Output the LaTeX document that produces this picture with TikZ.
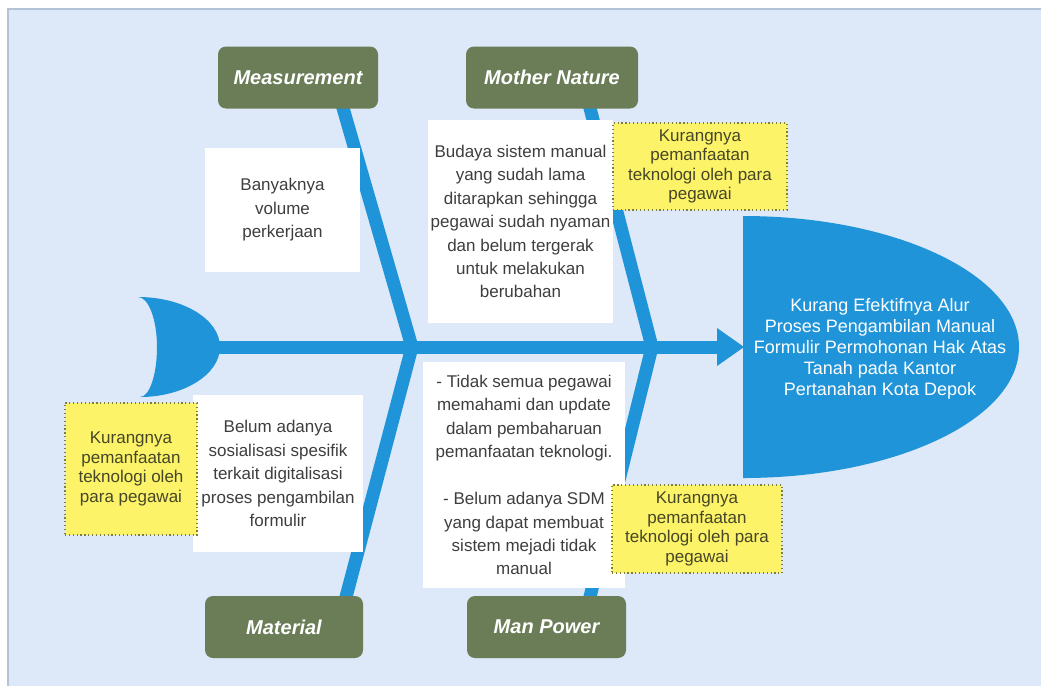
\documentclass[tikz,border=0pt]{standalone}
\usepackage{fontspec}
\setmainfont{Liberation Sans}
\definecolor{bgblue}{RGB}{221,232,248}
\definecolor{bgedge}{RGB}{180,194,214}
\definecolor{fishblue}{RGB}{31,148,216}
\definecolor{olivebox}{RGB}{106,125,87}
\definecolor{notey}{RGB}{252,243,104}
\definecolor{noteedge}{RGB}{125,125,60}
\definecolor{notetext}{RGB}{70,70,40}
\definecolor{txtgrey}{RGB}{62,62,62}

\begin{document}
\begin{tikzpicture}[x=0.75pt,y=-0.75pt,
  bone/.style={draw=fishblue, line width=9.75pt, line join=miter},
  catbox/.style={rounded corners=6pt, fill=olivebox, text=white, inner sep=0pt,
    minimum height=46.5pt, font=\fontsize{15}{18}\selectfont\bfseries\itshape},
  causebox/.style={fill=white, text=txtgrey, align=center, inner sep=0pt,
    font=\fontsize{12.75}{17.6}\selectfont},
  notebox/.style={fill=notey, draw=noteedge, dotted, line width=0.9pt, text=notetext,
    align=center, inner sep=0pt, font=\fontsize{12.75}{14.6}\selectfont},
  headtext/.style={text=white, align=center, inner sep=0pt,
    font=\fontsize{13.5}{15.75}\selectfont}
]
% canvas
\useasboundingbox (0,0) rectangle (1041,686);
\fill[white] (0,0) rectangle (1041,686);
\fill[bgblue] (8,9) rectangle (1041,686);
\draw[bgedge, line width=0.8pt] (8,686) -- (8,9) -- (1041,9);

% junctions and bone ends
\coordinate (j1) at (412,347);
\coordinate (j2) at (652,347);
\coordinate (measEnd) at (340.7,100);
\coordinate (matEnd) at (343.9,605);
\coordinate (natEnd) at (587.9,100);
\coordinate (manEnd) at (588,605);
\coordinate (tailR) at (215,347);
\coordinate (arrowBase) at (719,347);

% bones
\draw[bone] (measEnd) -- (j1) -- (matEnd);
\draw[bone] (natEnd) -- (j2) -- (manEnd);

% spine
\draw[fishblue, line width=9.75pt] (tailR) -- (arrowBase);
\fill[fishblue] (717,328) -- (744,347) -- (717,366) -- cycle;

% tail fin
\fill[fishblue] (138,297) .. controls (183.3,297) and (220,319.4) .. (220,347)
  .. controls (220,374.6) and (183.3,397) .. (140,397)
  .. controls (149.5,397) and (157,374.6) .. (157,347)
  .. controls (157,319.4) and (148.5,297) .. (138,297) -- cycle;

% head
\fill[fishblue] (743,216) .. controls (895.4,216) and (1019,274.6) .. (1019,347)
  .. controls (1019,419.4) and (895.4,478) .. (743,478) -- cycle;
\node[headtext] (effect) at (880,349) {Kurang Efektifnya Alur\\Proses Pengambilan Manual\\Formulir Permohonan Hak Atas\\Tanah pada Kantor\\Pertanahan Kota Depok};

% category boxes
\node[catbox, minimum width=120pt] (meas) at (298,77.5) {Measurement};
\node[catbox, minimum width=129pt] (nature) at (552,77.5) {Mother Nature};
\node[catbox, minimum width=118.5pt] (material) at (284,627) {Material};
\node[catbox, minimum width=119.25pt] (manpower) at (546.5,627) {Man Power};

% causes
\node[causebox, minimum width=116.25pt, minimum height=93pt] (c1) at (282.5,210)
  {Banyaknya\\volume\\perkerjaan};
\node[causebox, minimum width=138.75pt, minimum height=152.25pt] (c2) at (520.5,221.5)
  {Budaya sistem manual\\yang sudah lama\\ditarapkan sehingga\\pegawai sudah nyaman\\dan belum tergerak\\untuk melakukan\\berubahan};
\node[causebox, minimum width=127.5pt, minimum height=117.75pt] (c3) at (278,473.5)
  {Belum adanya\\sosialisasi spesifik\\terkait digitalisasi\\proses pengambilan\\formulir};
\node[causebox, minimum width=151.5pt, minimum height=169.5pt] (c4) at (524,475)
  {- Tidak semua pegawai\\memahami dan update\\dalam pembaharuan\\pemanfaatan teknologi.\\[17.6pt]- Belum adanya SDM\\yang dapat membuat\\sistem mejadi tidak\\manual};

% notes
\node[notebox, minimum width=99pt, minimum height=99pt] (n1) at (131,469)
  {Kurangnya\\pemanfaatan\\teknologi oleh\\para pegawai};
\node[notebox, minimum width=130.5pt, minimum height=65.25pt] (n2) at (700,166.5)
  {Kurangnya\\pemanfaatan\\teknologi oleh para\\pegawai};
\node[notebox, minimum width=127.5pt, minimum height=66pt] (n3) at (697,529)
  {Kurangnya\\pemanfaatan\\teknologi oleh para\\pegawai};
\end{tikzpicture}
\end{document}
